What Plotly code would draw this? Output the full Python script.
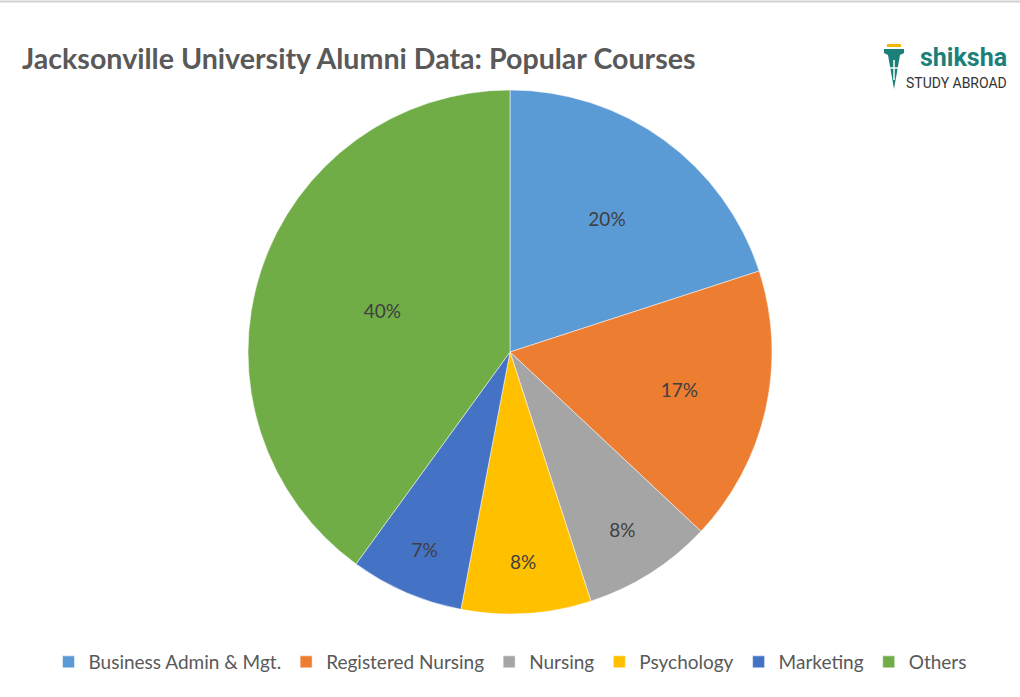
import plotly.graph_objects as go

categories = ["Business Admin & Mgt.", "Registered Nursing", "Nursing", "Psychology", "Marketing", "Others"]
values = [20, 17, 8, 8, 7, 40]
colors = ["#5B9BD5", "#ED7D31", "#A5A5A5", "#FFC000", "#4472C4", "#70AD47"]

W, H = 1020, 697
mt, mb = 90, 83
ph = H - mt - mb


def px(x):
    return x / W


def py(y):
    return (H - mb - y) / ph


fig = go.Figure(go.Pie(
    labels=categories,
    values=values,
    sort=False,
    direction="clockwise",
    rotation=0,
    marker=dict(colors=colors, line=dict(color="white", width=0.5)),
    texttemplate="%{percent:.0%}",
    textposition="inside",
    insidetextorientation="horizontal",
    textfont=dict(family="Lato", size=19, color="#404040"),
    hoverinfo="label+percent",
))

fig.update_layout(
    width=W, height=H,
    margin=dict(l=0, r=0, t=mt, b=mb),
    paper_bgcolor="white",
    plot_bgcolor="white",
    title=dict(text="<b>Jacksonville University Alumni Data: Popular Courses</b>",
               x=px(22), xanchor="left", y=1 - 59 / H, yanchor="middle",
               font=dict(family="Lato", size=28.6, color="#595959")),
    legend=dict(orientation="h", x=0.5, xanchor="center", y=py(662), yanchor="middle",
                font=dict(family="Lato", size=19, color="#595959"), itemwidth=30,
                traceorder="normal"),
    showlegend=True,
)

# logo text
fig.add_annotation(text="<b>shiksha</b>", x=px(1009), y=py(58), xref="paper", yref="paper",
                   xanchor="right", yanchor="middle", showarrow=False,
                   font=dict(family="Roboto", size=25, color="#1B7F7A"))
fig.add_annotation(text="STUDY ABROAD", x=px(1009), y=py(83), xref="paper", yref="paper",
                   xanchor="right", yanchor="middle", showarrow=False,
                   font=dict(family="Roboto", size=14, color="#333333"))
# logo nib icon
fig.add_shape(type="rect", xref="paper", yref="paper", x0=px(887), x1=px(901), y0=py(47), y1=py(44),
              fillcolor="#F2B705", line=dict(width=0))
nib = "M {} {} L {} {} L {} {} L {} {} L {} {} L {} {} L {} {} Z".format(
    px(884), py(49), px(904), py(49), px(904), py(53), px(900), py(55),
    px(894), py(89), px(888), py(55), px(884), py(53))
fig.add_shape(type="path", xref="paper", yref="paper", path=nib,
              fillcolor="#1B7F7A", line=dict(width=0))
fig.add_shape(type="line", xref="paper", yref="paper", x0=px(894), x1=px(894), y0=py(60), y1=py(80),
              line=dict(color="white", width=1.5))
fig.add_shape(type="line", xref="paper", yref="paper", x0=px(889), x1=px(899), y0=py(68), y1=py(68),
              line=dict(color="white", width=1.5))
# top border line
fig.add_shape(type="line", xref="paper", yref="paper", x0=0, x1=1, y0=py(1.5), y1=py(1.5),
              line=dict(color="#D0D0D0", width=2))

fig.write_html("out.html", config={"displayModeBar": False},
               post_script="document.body.style.margin='0';")
